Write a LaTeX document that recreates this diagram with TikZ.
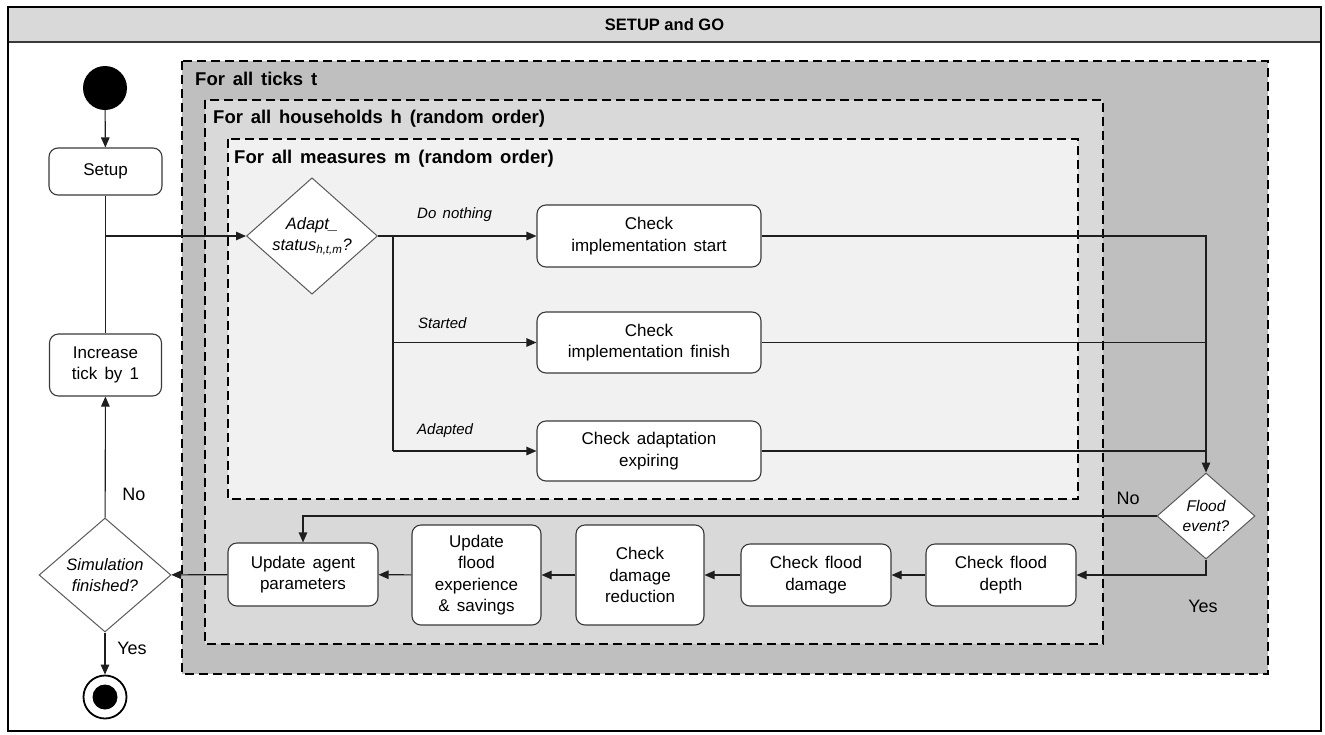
\documentclass[tikz,border=0pt]{standalone}
\usepackage{fontspec}
\setmainfont{Liberation Sans}
\usetikzlibrary{shapes.geometric,arrows.meta}

\definecolor{headgray}{HTML}{D9D9D9}
\definecolor{tickgray}{HTML}{BFBFBF}
\definecolor{hhgray}{HTML}{D9D9D9}
\definecolor{measgray}{HTML}{F1F1F1}
\definecolor{edgegray}{HTML}{3A3A3A}
\definecolor{diagray}{HTML}{5A5A5A}
\definecolor{linegray}{HTML}{1E1E1E}

% wider word spacing, as in the original drawing tool
\newcommand{\widespace}{\spaceskip=0.42em plus 0.1em\relax}

\tikzset{
  actbox/.style={draw=edgegray, line width=1.1pt, fill=white, rounded corners=9pt,
    align=center, inner sep=0pt, font=\fontsize{17}{21.5}\selectfont\widespace},
  decide/.style={diamond, draw=diagray, line width=1pt, fill=white, align=center,
    inner sep=0pt, font=\fontsize{16.5}{21}\selectfont\itshape},
  loopbox/.style={draw=black, line width=2pt, dash pattern=on 9pt off 5pt},
  looplabel/.style={anchor=west, inner sep=0pt, font=\fontsize{18.5}{20}\selectfont\bfseries\widespace},
  branchlabel/.style={anchor=west, inner sep=0pt, font=\fontsize{15}{16}\selectfont\itshape\widespace},
  guard/.style={inner sep=0pt, font=\fontsize{18}{20}\selectfont},
  conn/.style={draw=linegray, line width=1.1pt},
  arr/.style={conn, -{Triangle[length=10pt,width=8.5pt]}},
}

\begin{document}
\begin{tikzpicture}[x=1pt,y=-1pt]
\useasboundingbox (0,0) rectangle (1325,734);
\fill[white] (0,0) rectangle (1325,734);

% frame and title band
\fill[headgray] (8,7) rectangle (1321,42);
\draw[line width=1.6pt, edgegray] (8,42) -- (1321,42);
\draw[line width=2.6pt] (8,7) rectangle (1321,731);
\node[inner sep=0pt, font=\fontsize{16.5}{18}\selectfont\bfseries] (title) at (664.5,25) {SETUP and GO};

% nested loops
\fill[tickgray] (182,61) rectangle (1268,674);
\draw[loopbox] (182,61) rectangle (1268,674);
\fill[hhgray] (205,100) rectangle (1103,644);
\draw[loopbox] (205,100) rectangle (1103,644);
\fill[measgray] (228,139) rectangle (1078,499);
\draw[loopbox] (228,139) rectangle (1078,499);

\node[looplabel] (lticks) at (195,79) {For all ticks t};
\node[looplabel] (lhh) at (213,119) {For all households h (random order)};
\node[looplabel] (lmeas) at (234,159) {For all measures m (random order)};

% start and setup
\node[circle, fill=black, minimum size=44pt, inner sep=0pt] (start) at (105,88) {};
\node[actbox, minimum width=113pt, minimum height=47pt] (setup) at (105.5,171.5) {Setup};
\node[actbox, minimum width=112pt, minimum height=62pt] (inc) at (105.5,365) {Increase\\tick by 1};

% measure loop
\node[decide, minimum width=131pt, minimum height=115pt] (adapt) at (312,236)
  {Adapt\_\\status\textsubscript{h,t,m}?};
\node[actbox, minimum width=224pt, minimum height=62pt] (chkstart) at (649,236)
  {Check\\implementation start};
\node[actbox, minimum width=224pt, minimum height=61pt] (chkfinish) at (649,342.5)
  {Check\\implementation finish};
\node[actbox, minimum width=224pt, minimum height=60pt] (chkexp) at (649,451)
  {Check adaptation\\expiring};
\coordinate (split) at (393,236);

\node[branchlabel] (ldo) at (417,215) {Do nothing};
\node[branchlabel] (lstart) at (418,323) {Started};
\node[branchlabel] (ladapt) at (417,431) {Adapted};

% flood branch
\node[decide, minimum width=98pt, minimum height=86pt, font=\fontsize{15.5}{20}\selectfont\itshape]
  (flood) at (1206,516) {Flood\\event?};
\node[actbox, minimum width=150pt, minimum height=62pt] (depth) at (1001,575) {Check flood\\depth};
\node[actbox, minimum width=150pt, minimum height=62pt] (damage) at (816,575) {Check flood\\damage};
\node[actbox, minimum width=128pt, minimum height=100pt] (reduct) at (640,575) {Check\\damage\\reduction};
\node[actbox, minimum width=129pt, minimum height=100pt] (exper) at (476.5,575) {Update\\flood\\experience\\\& savings};
\node[actbox, minimum width=150pt, minimum height=63pt] (agent) at (303,574.5) {Update agent\\parameters};

% end of simulation
\node[decide, minimum width=132pt, minimum height=114pt] (simend) at (105,575) {Simulation\\finished?};
\node[circle, draw=black, line width=1.8pt, fill=white, minimum size=43pt, inner sep=0pt] (stop) at (105,697) {};
\node[circle, fill=black, minimum size=25pt, inner sep=0pt] (stopdot) at (stop.center) {};

\node[guard] (lfno) at (1128,498) {No};
\node[guard] (lfyes) at (1203,606) {Yes};
\node[guard] (lsno) at (134,494) {No};
\node[guard] (lsyes) at (132,648) {Yes};

% connectors
\draw[arr] (start) -- (setup);
\draw[arr] (setup.south) |- (adapt.west);
\draw[conn] (inc.north) -- (setup.south |- adapt.west);
\draw[arr] (adapt.east) -- (chkstart.west);
\draw[conn] (split) -- (split |- chkexp.west);
\draw[arr] (split |- chkfinish.west) -- (chkfinish.west);
\draw[arr] (split |- chkexp.west) -- (chkexp.west);
\draw[arr] (chkstart.east) -| (flood.north);
\draw[conn] (chkfinish.east) -- (chkfinish.east -| flood.north);
\draw[conn] (chkexp.east) -- (chkexp.east -| flood.north);
\draw[arr] (flood.west) -| (agent.north);
\draw[arr] (flood.south) |- (depth.east);
\draw[arr] (depth) -- (damage);
\draw[arr] (damage) -- (reduct);
\draw[arr] (reduct) -- (exper);
\draw[arr] (exper) -- (agent);
\draw[arr] (agent) -- (simend);
\draw[arr] (simend) -- (inc);
\draw[arr] (simend) -- (stop);
\end{tikzpicture}
\end{document}
